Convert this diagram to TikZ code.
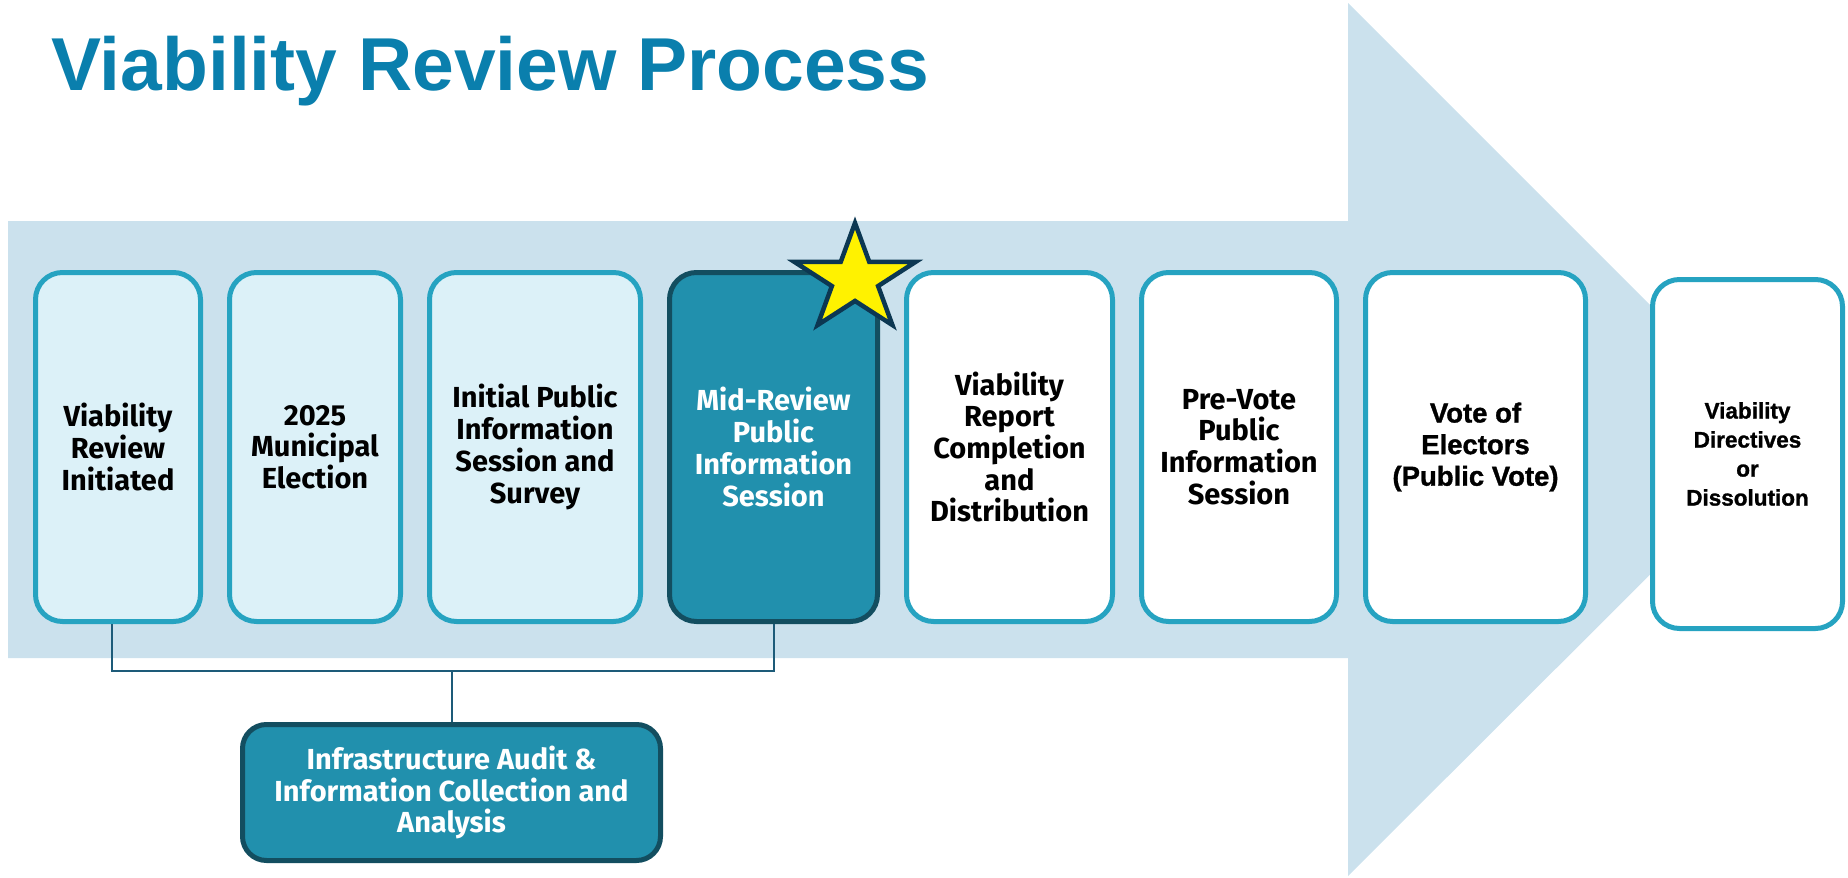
\documentclass[tikz,border=0pt]{standalone}
\usepackage{fontspec}
\setmainfont{Liberation Sans}
\newfontfamily\dinfont{Fira Sans}
\newfontfamily\heavyfont[FakeBold=1.2]{Liberation Sans}
\usetikzlibrary{positioning}
\definecolor{arrowblue}{HTML}{CBE1ED}
\definecolor{titleblue}{HTML}{0A7FAD}
\definecolor{boxline}{HTML}{26A3C1}
\definecolor{boxpale}{HTML}{DCF1F8}
\definecolor{boxdark}{HTML}{2190AD}
\definecolor{darkline}{HTML}{134E60}
\definecolor{linkblue}{HTML}{1D5B79}
\definecolor{starline}{HTML}{0C3752}

\begin{document}
\begin{tikzpicture}[x=1pt,y=-1pt,thin]
\tikzstyle{stepbox}=[rectangle,draw=boxline,line width=5pt,rounded corners=27pt,minimum height=349pt,align=center,text=black,inner sep=4pt,font=\dinfont\bfseries\fontsize{29}{31.7}\selectfont]
\tikzstyle{pale}=[stepbox,fill=boxpale]
\tikzstyle{plain}=[stepbox,fill=white]
\tikzstyle{current}=[stepbox,fill=boxdark,draw=darkline,text=white]
\tikzstyle{wide}=[font=\heavyfont\bfseries\fontsize{27.5}{31.6}\selectfont]
\tikzstyle{link}=[draw=linkblue,line width=2pt]
\tikzstyle{starmark}=[fill=yellow,draw=starline,line width=4.5pt]

\useasboundingbox (0,0) rectangle (1848,878);
\fill[arrowblue] (8,221) -- (1348,221) -- (1348,3) -- (1785,440) -- (1348,876) -- (1348,658) -- (8,658) -- cycle;

\node[anchor=base west,inner sep=0,text=titleblue,font=\bfseries\fontsize{75}{80}\selectfont] (T) at (51,90) {Viability Review Process};

\node[pale]    (A) [minimum width=165pt] at (118,447) {Viability\\Review\\Initiated};
\node[pale]    (B) [right=24pt of A,minimum width=171pt] {2025\\Municipal\\Election};
\node[pale]    (C) [right=24pt of B,minimum width=211pt] {Initial Public\\Information\\Session and\\Survey};
\node[current] (D) [right=24pt of C,minimum width=208pt] {Mid-Review\\Public\\Information\\Session};
\node[plain]   (E) [right=24pt of D,minimum width=206pt] {Viability\\Report\\Completion\\and\\Distribution};
\node[plain]   (F) [right=24pt of E,minimum width=195pt] {Pre-Vote\\Public\\Information\\Session};
\node[plain]   (G) [right=24pt of F,minimum width=220pt,wide] {Vote of\\Electors\\(Public Vote)};
\node[plain]   (H) [right=62pt of G,yshift=-7pt,minimum width=190pt,font=\heavyfont\bfseries\fontsize{22.5}{29}\selectfont] {Viability\\Directives\\or\\Dissolution};

\node[current] (I) [minimum width=418pt,minimum height=136pt,rounded corners=24pt] at (451.5,792.5) {Infrastructure Audit \&\\Information Collection and\\Analysis};

% bracket from the audit box up to its steps
\coordinate (bus) at ([yshift=51pt]I.north);
\draw[link] ([xshift=-6pt]A.south) |- (bus) -| (D.south);
\draw[link] (bus) -- (I.north);

% marker on the current step
\draw[starmark,shift={(855,279.4)},x=63.6pt,y=56.4pt]
  (90:1) -- (126:0.382) -- (162:1) -- (198:0.382) -- (234:1) -- (270:0.382)
  -- (306:1) -- (342:0.382) -- (18:1) -- (54:0.382) -- cycle;
\end{tikzpicture}
\end{document}
